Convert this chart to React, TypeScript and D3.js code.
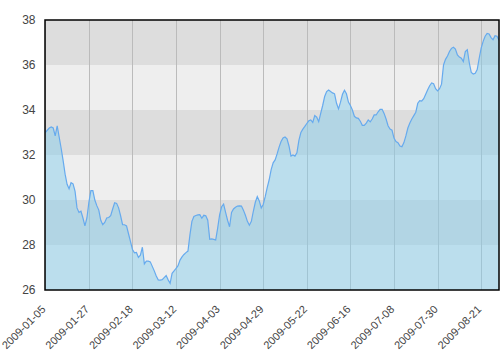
import React from "react";
import * as d3 from "d3";

const values: number[] = [
  33.0, 33.1, 33.2, 33.25, 33.2, 32.85, 33.3, 32.8, 32.3, 31.75,
  31.15, 30.7, 30.5, 30.77, 30.72, 30.4, 29.65, 29.45, 29.5, 29.2,
  28.85, 29.2, 29.9, 30.42, 30.42, 30.0, 29.75, 29.55, 29.1, 28.9,
  29.0, 29.2, 29.22, 29.3, 29.6, 29.88, 29.85, 29.65, 29.3, 28.9,
  28.9, 28.85, 28.5, 28.15, 27.8, 27.65, 27.67, 27.45, 27.55, 27.9,
  27.16, 27.28, 27.28, 27.25, 27.05, 26.85, 26.62, 26.45, 26.44, 26.46,
  26.55, 26.64, 26.45, 26.3, 26.74, 26.85, 26.96, 27.08, 27.33, 27.47,
  27.58, 27.66, 27.73, 28.45, 29.05, 29.27, 29.31, 29.34, 29.35, 29.19,
  29.32, 29.3, 29.1, 28.25, 28.27, 28.25, 28.22, 28.75, 29.35, 29.7,
  29.82, 29.45, 29.1, 28.81, 29.45, 29.6, 29.68, 29.73, 29.74, 29.73,
  29.55, 29.32, 29.05, 28.88, 29.05, 29.5, 29.9, 30.15, 29.96, 29.65,
  29.8, 30.15, 30.55, 30.9, 31.35, 31.65, 31.78, 32.05, 32.35, 32.6,
  32.76, 32.8, 32.72, 32.4, 31.95, 32.0, 31.95, 32.1, 32.65, 33.0,
  33.15, 33.27, 33.4, 33.52, 33.56, 33.45, 33.75, 33.68, 33.48, 33.85,
  34.2, 34.6, 34.82, 34.89, 34.82, 34.76, 34.72, 34.3, 34.05, 34.35,
  34.7, 34.88, 34.72, 34.35, 34.2, 34.0, 33.72, 33.65, 33.63, 33.5,
  33.32, 33.32, 33.42, 33.56, 33.47, 33.6, 33.78, 33.78, 33.92, 34.03,
  34.03, 33.85, 33.6, 33.3, 33.15, 33.1, 32.75, 32.6, 32.55, 32.4,
  32.37, 32.55, 32.85, 33.2, 33.42, 33.6, 33.75, 33.9, 34.3, 34.42,
  34.4, 34.5, 34.7, 34.9, 35.08, 35.2, 35.17, 34.95, 34.85, 34.95,
  35.15, 36.0, 36.25, 36.4, 36.6, 36.74, 36.79, 36.71, 36.45, 36.35,
  36.3, 36.15, 36.6, 36.68, 36.1, 35.67, 35.6, 35.63, 35.8, 36.3,
  36.75, 37.05, 37.28, 37.4, 37.38, 37.22, 37.12, 37.3, 37.28, 37.1,
];

const tickIndices: number[] = [0, 22, 44, 66, 88, 110, 132, 154, 176, 198, 220];
const tickLabels: string[] = [
  "2009-01-05", "2009-01-27", "2009-02-18", "2009-03-12", "2009-04-03",
  "2009-04-29", "2009-05-22", "2009-06-16", "2009-07-08", "2009-07-30", "2009-08-21",
];
const yTicks: number[] = [26, 28, 30, 32, 34, 36, 38];

const W = 500, H = 350;
const left = 45, right = 499, top = 20, bottom = 290;

export default function App() {
  const x = d3.scaleLinear().domain([0, values.length - 1]).range([left + 0.3, right]);
  const y = d3.scaleLinear().domain([26, 38]).range([bottom, top]);

  const area = d3.area<number>()
    .x((_, i) => x(i))
    .y0(bottom)
    .y1((d) => y(d));
  const line = d3.line<number>()
    .x((_, i) => x(i))
    .y((d) => y(d));

  const bands = yTicks.slice(0, -1).map((v, k) => ({ lo: v, hi: yTicks[k + 1], dark: k % 2 === 1 }));
  const font = "'Liberation Sans', Arial, sans-serif";

  return (
    <svg width={W} height={H} style={{ position: "absolute", left: 0, top: 0, background: "#fff" }}>
      <defs>
        <clipPath id="plot">
          <rect x={left} y={top} width={right - left} height={bottom - top} />
        </clipPath>
      </defs>
      {bands.map((b, k) => (
        <rect key={k} x={left} width={right - left} y={y(b.hi)} height={y(b.lo) - y(b.hi)}
          fill={b.dark ? "#dddddd" : "#eeeeee"} />
      ))}
      {tickIndices.map((t, k) => (
        <line key={k} x1={Math.round(x(t)) + 0.5} x2={Math.round(x(t)) + 0.5} y1={top} y2={bottom}
          stroke="#bbbbbb" strokeWidth={1} />
      ))}
      <g clipPath="url(#plot)">
        <path d={area(values) || ""} fill="#87ceeb" fillOpacity={0.5} />
        <path d={line(values) || ""} fill="none" stroke="#66aaee" strokeWidth={1.2} />
      </g>
      <rect x={left} y={top} width={right - left} height={bottom - top} fill="none" stroke="#000" strokeWidth={1.5} />
      {yTicks.map((v) => (
        <text key={v} x={35.5} y={y(v)} dy="0.35em" textAnchor="end" fontFamily={font} fontSize={12} fill="#444">
          {v}
        </text>
      ))}
      {tickIndices.map((t, k) => (
        <text key={k} transform={`translate(${x(t) + 1},${bottom + 20}) rotate(-45)`} textAnchor="end"
          fontFamily={font} fontSize={11} fill="#444">
          {tickLabels[k]}
        </text>
      ))}
    </svg>
  );
}
